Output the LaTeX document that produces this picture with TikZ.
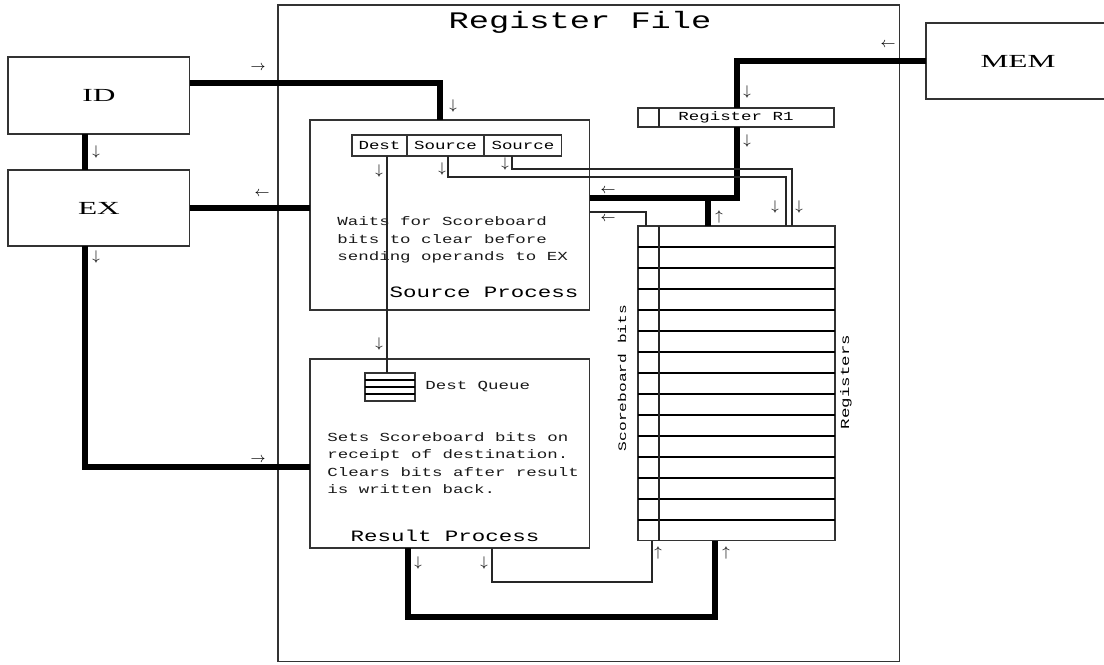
\documentclass[tikz,border=0pt]{standalone}
\usepackage{fontspec}
\newfontfamily\figfont[FakeStretch=1.42]{Liberation Mono}
\newfontfamily\unitfont[FakeStretch=1.7]{Liberation Serif}
\usetikzlibrary{calc,positioning}

\begin{document}
\begin{tikzpicture}[
  x=0.02cm, y=-0.02cm,
  font=\figfont\fontsize{7}{9.9}\selectfont,
  frame/.style={draw=black!80, line width=0.6pt, inner sep=0pt, outer sep=0pt, anchor=north west},
  unit/.style={frame, font=\unitfont\fontsize{10.5}{12}\selectfont},
  note/.style={anchor=west, align=left, inner sep=0pt, text=black!90},
  bus/.style={line width=3.4pt},
  wire/.style={draw=black!85, line width=0.6pt},
  rowline/.style={line width=1.1pt},
  tag/.style={inner sep=0pt, font=\fontsize{8.5}{9}\selectfont}
]
  \useasboundingbox (0,0) rectangle (1104,664);
  \node[frame, minimum width=12.44cm, minimum height=13.14cm] (rf) at (278,5) {};
  \node[font=\figfont\fontsize{13.5}{15}\selectfont] (title) at (580,22) {Register File};
  \node[unit, minimum width=3.64cm, minimum height=1.54cm] (id) at (8,57) {ID};
  \node[unit, minimum width=3.64cm, minimum height=1.52cm] (ex) at (8,170) {EX};
  \node[unit, minimum width=3.68cm, minimum height=1.52cm] (mem) at (926,23) {MEM};
  \node[frame, minimum width=5.6cm, minimum height=3.8cm] (src) at (310,120) {};
  \node[frame, minimum width=5.6cm, minimum height=3.78cm] (res) at (310,359) {};

  \node[frame, minimum width=1.1cm, minimum height=0.42cm] (dest) at (352,135) {Dest};
  \node[frame, minimum width=1.54cm, minimum height=0.42cm] (srca) at (dest.north east) {Source};
  \node[frame, minimum width=1.56cm, minimum height=0.42cm] (srcb) at (srca.north east) {Source};

  \node[frame, minimum width=3.92cm, minimum height=0.38cm] (r1) at (638,108) {Register R1};
  \draw[wire] ($(r1.north west)+(21,0)$) -- ($(r1.south west)+(21,0)$);

  \node[frame, minimum width=3.94cm, minimum height=6.3cm] (regs) at (638,226) {};
  \foreach \i in {1,...,14}
    \draw[rowline] ($(regs.north west)+(0,21*\i)$) -- ($(regs.north east)+(0,21*\i)$);
  \draw[wire] ($(regs.north west)+(21,0)$) -- ($(regs.south west)+(21,0)$);

  \node[frame, minimum width=1cm, minimum height=0.56cm] (queue) at (365,373) {};
  \foreach \i in {1,2,3}
    \draw[rowline] ($(queue.north west)+(0,7*\i)$) -- ($(queue.north east)+(0,7*\i)$);
  \node[note, right=0.2cm of queue] (qname) {Dest Queue};

  \node[note] (srctext) at (337,240) {Waits for Scoreboard\\bits to clear before\\sending operands to EX};
  \node[font=\figfont\fontsize{9}{11}\selectfont] (srcname) at (484,292) {Source Process};
  \node[note] (restext) at (327,463) {Sets Scoreboard bits on\\receipt of destination.\\Clears bits after result\\is written back.};
  \node[font=\figfont\fontsize{9}{11}\selectfont] (resname) at (445,536) {Result Process};
  \node[rotate=90, font=\figfont\fontsize{6.5}{8}\selectfont] (sbname) at (622,378) {Scoreboard bits};
  \node[rotate=90] (regname) at (846,382) {Registers};

  \draw[bus] ($(id.north east)+(0,26)$) -| ($(src.north west)+(130,0)$);
  \draw[bus] ($(id.south west)+(77,0)$) -- ($(ex.north west)+(77,0)$);
  \draw[bus] (src.west |- ex.east) -- (ex.east);
  \draw[bus] ($(ex.south west)+(77,0)$) |- ($(res.north west)+(0,108)$);
  \draw[bus] (mem.west) -| ($(r1.north west)+(99,0)$);
  \draw[bus] ($(r1.south west)+(99,0)$) |- ($(src.north east)+(0,78)$);
  \draw[bus] ($(regs.north west)+(70,0)$) -- ++(0,-28);
  \draw[bus] ($(res.south west)+(98,0)$) -- ++(0,69) -| ($(regs.south west)+(77,0)$);

  \draw[wire] ($(regs.north west)+(8,0)$) |- ($(src.north east)+(0,92)$);
  \draw[wire] ($(srca.south west)+(41,0)$) -- ++(0,21) -| ($(regs.north west)+(148,0)$);
  \draw[wire] ($(srcb.south west)+(28,0)$) -- ++(0,13) -| ($(regs.north west)+(154,0)$);
  \coordinate (dq) at ($(dest.south west)+(35,0)$);
  \draw[wire] (dq) -- (dq |- queue.north);
  \draw[wire] ($(res.south west)+(182,0)$) -- ++(0,34) -| ($(regs.south west)+(14,0)$);

  \foreach \x/\y/\g [count=\k] in {258/68/\rightarrow, 453/106/\downarrow, 96/152/\downarrow,
      262/194/\leftarrow, 96/257/\downarrow, 258/460/\rightarrow, 888/45/\leftarrow,
      747/92/\downarrow, 747/141/\downarrow, 608/191/\leftarrow, 608/219/\leftarrow,
      719/217/\uparrow, 775/207/\downarrow, 799/207/\downarrow, 379/171/\downarrow,
      442/169/\downarrow, 505/164/\downarrow, 379/344/\downarrow, 418/563/\downarrow,
      484/563/\downarrow, 658/553/\uparrow, 726/553/\uparrow}
    \node[tag] (tag\k) at (\x,\y) {$\g$};
\end{tikzpicture}
\end{document}
